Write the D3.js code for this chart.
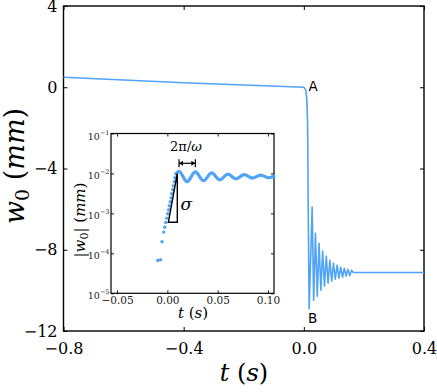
<!DOCTYPE html>
<html lang="en">
<head>
<meta charset="UTF-8">
<title>w0 vs t</title>
<script src="https://d3js.org/d3.v7.min.js"></script>
<style>
  body { margin: 0; background: #fff; }
  svg { display: block; }
  svg text { font-family: "DejaVu Serif", serif; fill: #000; }
  svg text.sans { font-family: "DejaVu Sans", sans-serif; }
</style>
</head>
<body>
<svg id="chart" width="437" height="392"></svg>
<script>
// main curve: t (s) and w0 (mm)
const mainT = [-0.8, -0.4, 0.0, 0.0067, 0.010, 0.0123, 0.0133, 0.0143, 0.0177,
  0.0277, 0.0327, 0.0387, 0.0447, 0.0507, 0.0567, 0.0627, 0.0687, 0.0747, 0.0807,
  0.0867, 0.0927, 0.0987, 0.1047, 0.1107, 0.1167, 0.1227, 0.1287, 0.1347, 0.1407,
  0.1467, 0.1527, 0.1587, 0.165, 0.4];
const mainW = [0.49, 0.22, 0.0, -0.14, -0.63, -1.62, -2.93, -5.56, -10.90,
  -5.90, -10.49, -7.19, -10.29, -7.68, -9.99, -8.07, -9.80, -8.32, -9.65,
  -8.52, -9.55, -8.66, -9.45, -8.76, -9.40, -8.86, -9.35, -8.91, -9.30,
  -8.96, -9.28, -9.01, -9.12, -9.12];

// inset: early growth (dots) and the oscillation after it
const riseT = [-0.0095, -0.0068, -0.0053, -0.0036, -0.0026, -0.0016, -0.0006, 0.0003,
  0.0013, 0.0019, 0.0029, 0.0036, 0.0043, 0.0053, 0.0059, 0.0069, 0.0076, 0.0086];
const riseW = [6.6e-5, 6.9e-5, 1.95e-4, 3.4e-4, 4.5e-4, 5.9e-4, 7.6e-4, 9.8e-4,
  1.23e-3, 1.55e-3, 1.95e-3, 2.45e-3, 3.1e-3, 3.9e-3, 4.9e-3, 6.2e-3, 7.8e-3, 9.8e-3];
const waveT = [0.0086, 0.0116, 0.0195, 0.0278, 0.0359, 0.044, 0.0521, 0.0602, 0.0682,
  0.0764, 0.0845, 0.0926, 0.1007, 0.106];
const waveW = [9.8e-3, 1.13e-2, 6.2e-3, 1.09e-2, 6.6e-3, 1.03e-2, 6.9e-3, 9.6e-3, 7.3e-3,
  9.3e-3, 7.6e-3, 9.1e-3, 7.8e-3, 8.5e-3];

const xTicks = [-0.8, -0.4, 0.0, 0.4];
const yTicks = [4, 0, -4, -8, -12];
const inXTicks = [-0.05, 0.0, 0.05, 0.10];
const inYTicks = [1e-5, 1e-4, 1e-3, 1e-2, 1e-1];

const blue = "#4fa3f9";
const svg = d3.select("#chart");

const x = d3.scaleLinear().domain([-0.8, 0.4]).range([63.5, 424]);
const y = d3.scaleLinear().domain([-12, 4]).range([331, 6]);

// ticks on all four sides, pointing inward
svg.append("g").attr("transform", "translate(0,331)")
  .call(d3.axisBottom(x).tickValues(xTicks).tickFormat(d3.format(".1f"))
    .tickSizeInner(-4).tickSizeOuter(0).tickPadding(12))
  .call(g => g.selectAll("text").attr("font-size", 16));
svg.append("g").attr("transform", "translate(0,6)")
  .call(d3.axisTop(x).tickValues(xTicks).tickFormat("").tickSizeInner(-4).tickSizeOuter(0));
svg.append("g").attr("transform", "translate(63.5,0)")
  .call(d3.axisLeft(y).tickValues(yTicks).tickFormat(d3.format("d"))
    .tickSizeInner(-4).tickSizeOuter(0).tickPadding(6))
  .call(g => g.selectAll("text").attr("font-size", 16));
svg.append("g").attr("transform", "translate(424,0)")
  .call(d3.axisRight(y).tickValues(yTicks).tickFormat("").tickSizeInner(-4).tickSizeOuter(0));
svg.selectAll(".domain").remove();
svg.selectAll(".tick line").attr("stroke", "#000").attr("stroke-width", 1);

svg.append("rect")
  .attr("x", 63.5).attr("y", 6).attr("width", 424 - 63.5).attr("height", 325)
  .attr("fill", "none").attr("stroke", "#000").attr("stroke-width", 1.4);

const mainData = mainT.map((t, i) => ({ t: t, w: mainW[i] }));
svg.append("path")
  .datum(mainData)
  .attr("fill", "none")
  .attr("stroke", blue)
  .attr("stroke-width", 1.6)
  .attr("stroke-linejoin", "round")
  .attr("d", d3.line().x(d => x(d.t)).y(d => y(d.w)));

svg.append("text").attr("class", "sans").attr("x", 308.5).attr("y", 91)
  .attr("font-size", 13.5).text("A");
svg.append("text").attr("class", "sans").attr("x", 308).attr("y", 323)
  .attr("font-size", 13.5).text("B");

// axis labels
const xl = svg.append("text").attr("x", 244).attr("y", 381).attr("text-anchor", "middle")
  .attr("font-size", 24);
xl.append("tspan").attr("font-style", "italic").text("t");
xl.append("tspan").text(" (");
xl.append("tspan").attr("font-style", "italic").text("s");
xl.append("tspan").text(")");

const yl = svg.append("text").attr("transform", "translate(24,166) rotate(-90)")
  .attr("text-anchor", "middle")
  .attr("font-size", 27);
yl.append("tspan").attr("font-style", "italic").text("w");
yl.append("tspan").attr("font-size", 19).attr("dy", 5).text("0");
yl.append("tspan").attr("dy", -5).text(" (");
yl.append("tspan").attr("font-style", "italic").text("mm");
yl.append("tspan").text(")");

// ---- inset ----
const ix = d3.scaleLinear().domain([-0.056, 0.106]).range([111, 274]);
const iy = d3.scaleLog().domain([1e-5, 1e-1]).range([293.3, 133.5]);

svg.append("rect")
  .attr("x", 111).attr("y", 133.5).attr("width", 163).attr("height", 159.8)
  .attr("fill", "#fff");

const ins = svg.append("g");
ins.append("g").attr("transform", "translate(0,293.3)")
  .call(d3.axisBottom(ix).tickValues(inXTicks).tickFormat(d3.format(".2f"))
    .tickSizeInner(-3).tickSizeOuter(0).tickPadding(3))
  .call(g => g.selectAll("text").attr("font-size", 10.5).style("fill", "#222"));
ins.append("g").attr("transform", "translate(0,133.5)")
  .call(d3.axisTop(ix).tickValues(inXTicks).tickFormat("").tickSizeInner(-3).tickSizeOuter(0));
ins.append("g").attr("transform", "translate(274,0)")
  .call(d3.axisRight(iy).tickValues(inYTicks).tickFormat("").tickSizeInner(-3).tickSizeOuter(0));
const leftAx = ins.append("g").attr("transform", "translate(111,0)")
  .call(d3.axisLeft(iy).tickValues(inYTicks).tickFormat("").tickSizeInner(-3).tickSizeOuter(0));
leftAx.selectAll(".tick").append("text")
  .attr("x", -1.5).attr("y", 5.5).attr("text-anchor", "end")
  .attr("font-size", 9.5).style("fill", "#222")
  .each(function (d) {
    const t = d3.select(this);
    t.append("tspan").text("10");
    t.append("tspan").attr("font-size", 6.5).attr("dy", -5)
      .text("\u2212" + Math.round(-Math.log10(d)));
  });
ins.selectAll(".domain").remove();
ins.selectAll(".tick line").attr("stroke", "#000").attr("stroke-width", 0.9);

ins.append("rect")
  .attr("x", 111).attr("y", 133.5).attr("width", 163).attr("height", 159.8)
  .attr("fill", "none").attr("stroke", "#000").attr("stroke-width", 1.2);

const waveData = waveT.map((t, i) => ({ t: t, w: waveW[i] }));
ins.append("path")
  .datum(waveData)
  .attr("fill", "none")
  .attr("stroke", blue)
  .attr("stroke-width", 3.2)
  .attr("stroke-linecap", "round")
  .attr("d", d3.line().x(d => ix(d.t)).y(d => iy(d.w)).curve(d3.curveMonotoneX));

ins.selectAll(".dot")
  .data(riseT.map((t, i) => ({ t: t, w: riseW[i] })))
  .enter().append("circle")
  .attr("class", "dot")
  .attr("cx", d => ix(d.t)).attr("cy", d => iy(d.w))
  .attr("r", 1.7).attr("fill", blue);

// slope triangle and sigma
const tri = [[0.001, 6e-4], [0.0099, 6e-4], [0.0099, 1.0e-2]];
ins.append("path")
  .attr("d", d3.line().x(d => ix(d[0])).y(d => iy(d[1]))(tri) + "Z")
  .attr("fill", "none").attr("stroke", "#000").attr("stroke-width", 1.4);
ins.append("text").attr("x", 180.5).attr("y", 210)
  .attr("font-style", "italic").attr("font-size", 17).text("σ");

// period arrow
const arrowY = 163.3, a0 = ix(0.0116), a1 = ix(0.0278);
ins.append("line").attr("x1", a0).attr("x2", a1).attr("y1", arrowY).attr("y2", arrowY)
  .attr("stroke", "#000").attr("stroke-width", 1.2);
[a0, a1].forEach((ax, k) => {
  ins.append("line").attr("x1", ax).attr("x2", ax).attr("y1", arrowY - 4).attr("y2", arrowY + 4)
    .attr("stroke", "#000").attr("stroke-width", 1.2);
  const dir = k === 0 ? 1 : -1;
  ins.append("path")
    .attr("d", `M${ax},${arrowY}L${ax + dir * 4},${arrowY - 2.5}L${ax + dir * 4},${arrowY + 2.5}Z`)
    .attr("fill", "#000");
});
const pl = ins.append("text").attr("x", 186).attr("y", 151).attr("text-anchor", "middle")
  .attr("font-size", 13);
pl.append("tspan").text("2π/");
pl.append("tspan").attr("font-style", "italic").text("ω");

// inset labels
const ixl = ins.append("text").attr("x", 193).attr("y", 318).attr("text-anchor", "middle")
  .attr("font-size", 15);
ixl.append("tspan").attr("font-style", "italic").text("t");
ixl.append("tspan").text(" (");
ixl.append("tspan").attr("font-style", "italic").text("s");
ixl.append("tspan").text(")");

const iyl = ins.append("text").attr("transform", "translate(85,220) rotate(-90)")
  .attr("text-anchor", "middle")
  .attr("font-size", 15);
iyl.append("tspan").text("|");
iyl.append("tspan").attr("font-style", "italic").text("w");
iyl.append("tspan").attr("font-size", 11).attr("dy", 3).text("0");
iyl.append("tspan").attr("dy", -3).text("| (");
iyl.append("tspan").attr("font-style", "italic").text("mm");
iyl.append("tspan").text(")");
</script>
</body>
</html>
